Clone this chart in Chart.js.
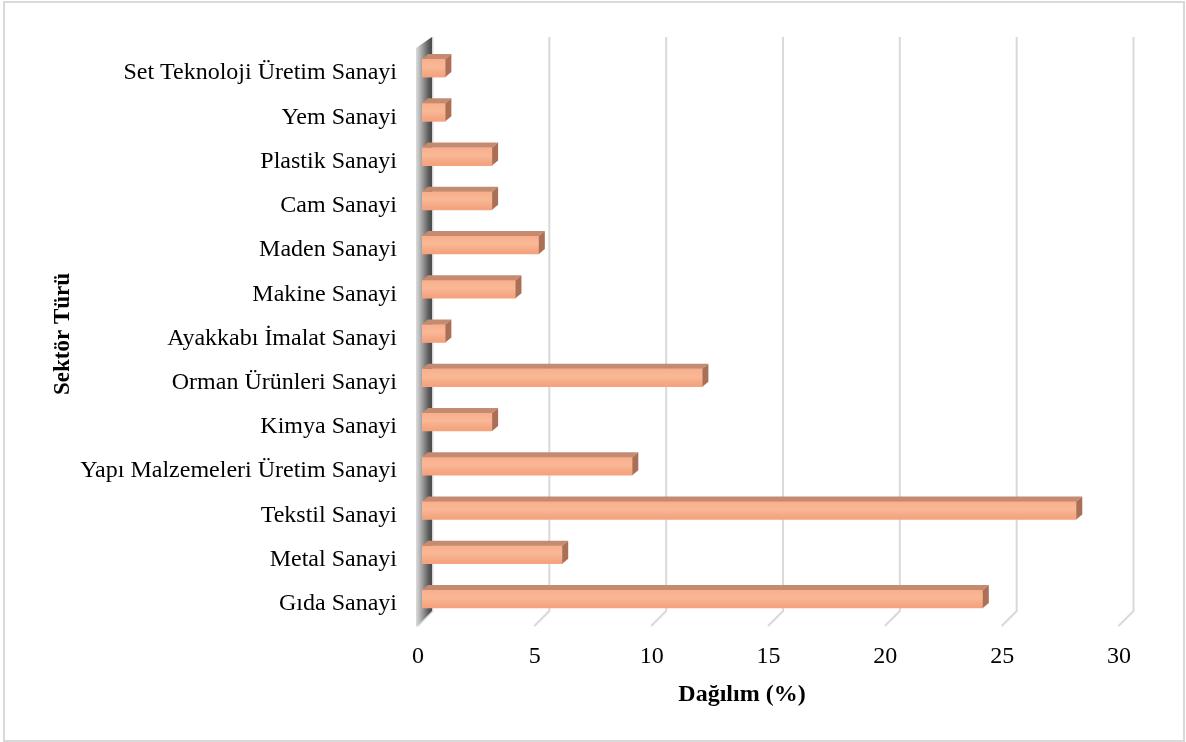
<!DOCTYPE html>
<html>
<head>
<meta charset="utf-8">
<script src="https://cdn.jsdelivr.net/npm/chart.js@4"></script>
<style>
  html, body { margin: 0; padding: 0; background: #ffffff; }
  #wrap { width: 1186px; height: 742px; position: relative; }
</style>
</head>
<body>
<div id="wrap"><canvas id="chart" width="1186" height="742"></canvas></div>
<script>
// Sector types, listed top to bottom
const categories = [
  'Set Teknoloji Üretim Sanayi',
  'Yem Sanayi',
  'Plastik Sanayi',
  'Cam Sanayi',
  'Maden Sanayi',
  'Makine Sanayi',
  'Ayakkabı İmalat Sanayi',
  'Orman Ürünleri Sanayi',
  'Kimya Sanayi',
  'Yapı Malzemeleri Üretim Sanayi',
  'Tekstil Sanayi',
  'Metal Sanayi',
  'Gıda Sanayi'
];
// Share of each sector (%)
const shares = [1, 1, 3, 3, 5, 4, 1, 12, 3, 9, 28, 6, 24];
// Value axis ticks
const xTicks = [0, 5, 10, 15, 20, 25, 30];
const xTitle = 'Dağılım (%)';
const yTitle = 'Sektör Türü';

const FONT = '"Liberation Serif", "Times New Roman", serif';
const DEPTH_BACK = 10.5;   // back wall offset to the right
const BACK_TOP = 37;
const BACK_BOTTOM = 611;

// Pseudo-3D frame: outer border, side wall, back gridlines and floor
const frame3d = {
  id: 'frame3d',
  beforeDraw(chart) {
    const { ctx, width, height } = chart;
    ctx.save();
    ctx.fillStyle = '#ffffff';
    ctx.fillRect(0, 0, width, height);
    ctx.strokeStyle = '#d9d9d9';
    ctx.lineWidth = 2;
    ctx.strokeRect(4, 2, 1180, 739);
    ctx.restore();
  },
  beforeDatasetsDraw(chart) {
    const { ctx } = chart;
    const xs = chart.scales.x;
    ctx.save();
    // back gridlines and their floor segments
    ctx.strokeStyle = '#d9d9d9';
    ctx.lineWidth = 2;
    xTicks.forEach(v => {
      const px = xs.getPixelForValue(v) + DEPTH_BACK;
      ctx.beginPath();
      ctx.moveTo(px, BACK_TOP);
      ctx.lineTo(px, BACK_BOTTOM);
      ctx.lineTo(px - 15, BACK_BOTTOM + 15);
      ctx.stroke();
    });
    // side wall
    const x0 = xs.getPixelForValue(0);
    const wl = x0 - 6, wr = x0 + 10;
    const g = ctx.createLinearGradient(wl, 0, wr, 0);
    g.addColorStop(0, '#dcdcdc');
    g.addColorStop(0.35, '#a6a6a6');
    g.addColorStop(0.8, '#5a5a5a');
    g.addColorStop(1, '#4a4a4a');
    ctx.fillStyle = g;
    ctx.beginPath();
    ctx.moveTo(wl, 48);
    ctx.lineTo(wr, BACK_TOP);
    ctx.lineTo(wr, BACK_BOTTOM);
    ctx.lineTo(wl, 627);
    ctx.closePath();
    ctx.fill();
    ctx.restore();
  },
  afterDatasetsDraw(chart) {
    const { ctx } = chart;
    const meta = chart.getDatasetMeta(0);
    const dx = 6, dy = 5;
    ctx.save();
    meta.data.forEach(bar => {
      const { x, y, base, height } = bar.getProps(['x', 'y', 'base', 'height'], true);
      const top = y - height / 2, bottom = y + height / 2;
      // front face shading
      const fg = ctx.createLinearGradient(0, top, 0, bottom);
      fg.addColorStop(0, 'rgba(255,255,255,0.06)');
      fg.addColorStop(0.45, 'rgba(255,235,220,0.22)');
      fg.addColorStop(1, 'rgba(215,120,80,0.14)');
      ctx.fillStyle = fg;
      ctx.fillRect(base, top, x - base, height);
      // top face
      ctx.fillStyle = '#c48b71';
      ctx.beginPath();
      ctx.moveTo(base, top);
      ctx.lineTo(x, top);
      ctx.lineTo(x + dx, top - dy);
      ctx.lineTo(base + dx, top - dy);
      ctx.closePath();
      ctx.fill();
      // end face
      ctx.fillStyle = '#ab6f55';
      ctx.beginPath();
      ctx.moveTo(x, top);
      ctx.lineTo(x + dx, top - dy);
      ctx.lineTo(x + dx, bottom - dy);
      ctx.lineTo(x, bottom);
      ctx.closePath();
      ctx.fill();
    });
    ctx.restore();
  },
  afterDraw(chart) {
    const { ctx } = chart;
    ctx.save();
    ctx.fillStyle = '#000000';
    ctx.font = 'bold 24px ' + FONT;
    ctx.textAlign = 'center';
    ctx.textBaseline = 'middle';
    ctx.fillText(xTitle, 742, 695);
    ctx.font = 'bold 23px ' + FONT;
    ctx.translate(63, 334);
    ctx.rotate(-Math.PI / 2);
    ctx.fillText(yTitle, 0, 0);
    ctx.restore();
  }
};

new Chart(document.getElementById('chart'), {
  type: 'bar',
  data: {
    labels: categories,
    datasets: [{
      data: shares,
      backgroundColor: '#f8a983',
      borderWidth: 0,
      barThickness: 18
    }]
  },
  options: {
    indexAxis: 'y',
    responsive: false,
    animation: false,
    layout: { padding: { top: 46, right: 63, bottom: 0, left: 0 } },
    plugins: { legend: { display: false }, tooltip: { enabled: false } },
    scales: {
      x: {
        min: 0,
        max: 30,
        afterBuildTicks(scale) { scale.ticks = xTicks.map(v => ({ value: v })); },
        afterFit(scale) { scale.height = 121; },
        grid: { display: false, drawTicks: false },
        border: { display: false },
        ticks: {
          color: '#000000',
          font: { family: FONT, size: 24 },
          padding: 21,
          labelOffset: -4,
          maxRotation: 0
        }
      },
      y: {
        afterFit(scale) { scale.width = 422; },
        grid: { display: false, drawTicks: false },
        border: { display: false },
        ticks: {
          color: '#000000',
          font: { family: FONT, size: 24 },
          padding: 25,
          labelOffset: 5,
          autoSkip: false
        }
      }
    }
  },
  plugins: [frame3d]
});
</script>
</body>
</html>
